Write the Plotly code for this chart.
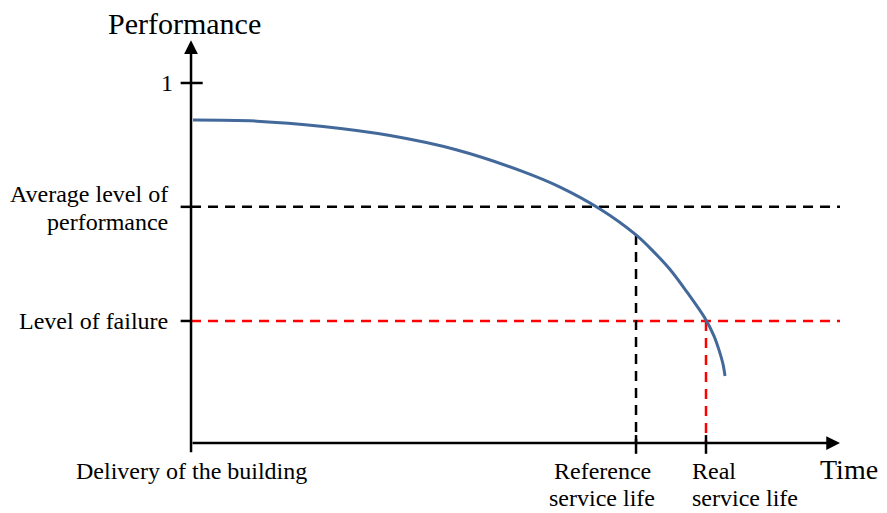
import plotly.graph_objects as go

# ---- data (time in arbitrary units, performance normalised to 1) ----
curve_time = [0.031, 1.017, 2.034, 3.066, 4.099, 5.116, 5.686, 6.302, 6.857, 7.119, 7.381, 7.643,
              7.935, 8.059, 8.136, 8.197, 8.228]
curve_perf = [0.897, 0.894, 0.879, 0.854, 0.814, 0.754, 0.711, 0.650, 0.578, 0.533, 0.482, 0.419,
              0.342, 0.297, 0.258, 0.219, 0.186]

time_axis_end = 10.0
perf_axis_end = 1.119
perf_max_tick = 1.0
average_level = 0.656
failure_level = 0.339
reference_life = 6.857
reference_life_perf = 0.578
real_life = 7.935

y_tick_labels = ["1", "Average level of<br>performance", "Level of failure"]
x_tick_labels = ["Delivery of the building", "Reference<br>service life", "Real<br>service life"]
axis_titles = ["Time", "Performance"]

SERIF = "Liberation Serif, Times New Roman, serif"
BLUE = "#43699b"
DASH = "10px,7px"
FS = 24

fig = go.Figure()

# horizontal dashed levels
fig.add_trace(go.Scatter(x=[0, time_axis_end], y=[average_level, average_level], mode="lines",
                         line=dict(color="black", width=2.5, dash=DASH), hoverinfo="skip"))
fig.add_trace(go.Scatter(x=[0, time_axis_end], y=[failure_level, failure_level], mode="lines",
                         line=dict(color="#ff0000", width=2.5, dash=DASH), hoverinfo="skip"))
# vertical dashed lines
fig.add_trace(go.Scatter(x=[reference_life, reference_life], y=[reference_life_perf, 0], mode="lines",
                         line=dict(color="black", width=2.5, dash=DASH), hoverinfo="skip"))
fig.add_trace(go.Scatter(x=[real_life, real_life], y=[failure_level, 0], mode="lines",
                         line=dict(color="#ff0000", width=2.5, dash=DASH), hoverinfo="skip"))
# performance curve
fig.add_trace(go.Scatter(x=curve_time, y=curve_perf, mode="lines",
                         line=dict(color=BLUE, width=3, shape="spline", smoothing=1.0), hoverinfo="skip"))

# axes with arrows
ann = []
ann.append(dict(x=0, y=perf_axis_end, ax=0, ay=-0.03, xref="x", yref="y", axref="x", ayref="y",
                showarrow=True, arrowhead=2, arrowsize=1.1, arrowwidth=2.5, arrowcolor="black", text=""))
ann.append(dict(x=time_axis_end, y=0, ax=0, ay=0, xref="x", yref="y", axref="x", ayref="y",
                showarrow=True, arrowhead=2, arrowsize=1.1, arrowwidth=2.5, arrowcolor="black", text=""))

shapes = []
# y ticks
shapes.append(dict(type="line", xref="x", yref="y", x0=-0.16, x1=0.18, y0=perf_max_tick, y1=perf_max_tick,
                   line=dict(color="black", width=2.5)))
for lv in [average_level, failure_level]:
    shapes.append(dict(type="line", xref="x", yref="y", x0=-0.16, x1=0, y0=lv, y1=lv,
                       line=dict(color="black", width=2.5)))
# x ticks
for t in [reference_life, real_life]:
    shapes.append(dict(type="line", xref="x", yref="y", x0=t, x1=t, y0=0.022, y1=-0.03,
                       line=dict(color="black", width=2.5)))


def label(x, y, text, xanchor, xshift, yshift, size=FS):
    ann.append(dict(x=x, y=y, xref="x", yref="y", text=text, showarrow=False,
                    xanchor=xanchor, yanchor="middle", xshift=xshift, yshift=yshift,
                    font=dict(family=SERIF, size=size, color="black")))


# y labels
label(0, perf_max_tick, y_tick_labels[0], "right", -16, 0)
avg_lines = y_tick_labels[1].split("<br>")
label(0, average_level, avg_lines[0], "right", -21, 13)
label(0, average_level, avg_lines[1], "right", -21, -15)
label(0, failure_level, y_tick_labels[2], "right", -21, 0)

# x labels
label(0, 0, x_tick_labels[0], "center", 0, -28)
ref_lines = x_tick_labels[1].split("<br>")
label(reference_life, 0, ref_lines[0], "center", -34, -28)
label(reference_life, 0, ref_lines[1], "center", -34, -55)
real_lines = x_tick_labels[2].split("<br>")
label(real_life, 0, real_lines[0], "left", -16, -28)
label(real_life, 0, real_lines[1], "left", -16, -55)

# axis titles
label(time_axis_end, 0, axis_titles[0], "left", -22, -26, size=28)
label(0, perf_axis_end, axis_titles[1], "center", -7, 17, size=30)

# page body has an 8px margin: shift the data mapping so the origin lands at (191, 443)
fig.update_layout(
    width=879, height=505,
    margin=dict(l=0, r=0, t=0, b=0),
    paper_bgcolor="white", plot_bgcolor="white",
    showlegend=False,
    xaxis=dict(range=[-2.820, 10.724], visible=False, fixedrange=True),
    yaxis=dict(range=[-0.1944, 1.2083], visible=False, fixedrange=True),
    annotations=ann, shapes=shapes,
)

fig.write_html("out.html")
